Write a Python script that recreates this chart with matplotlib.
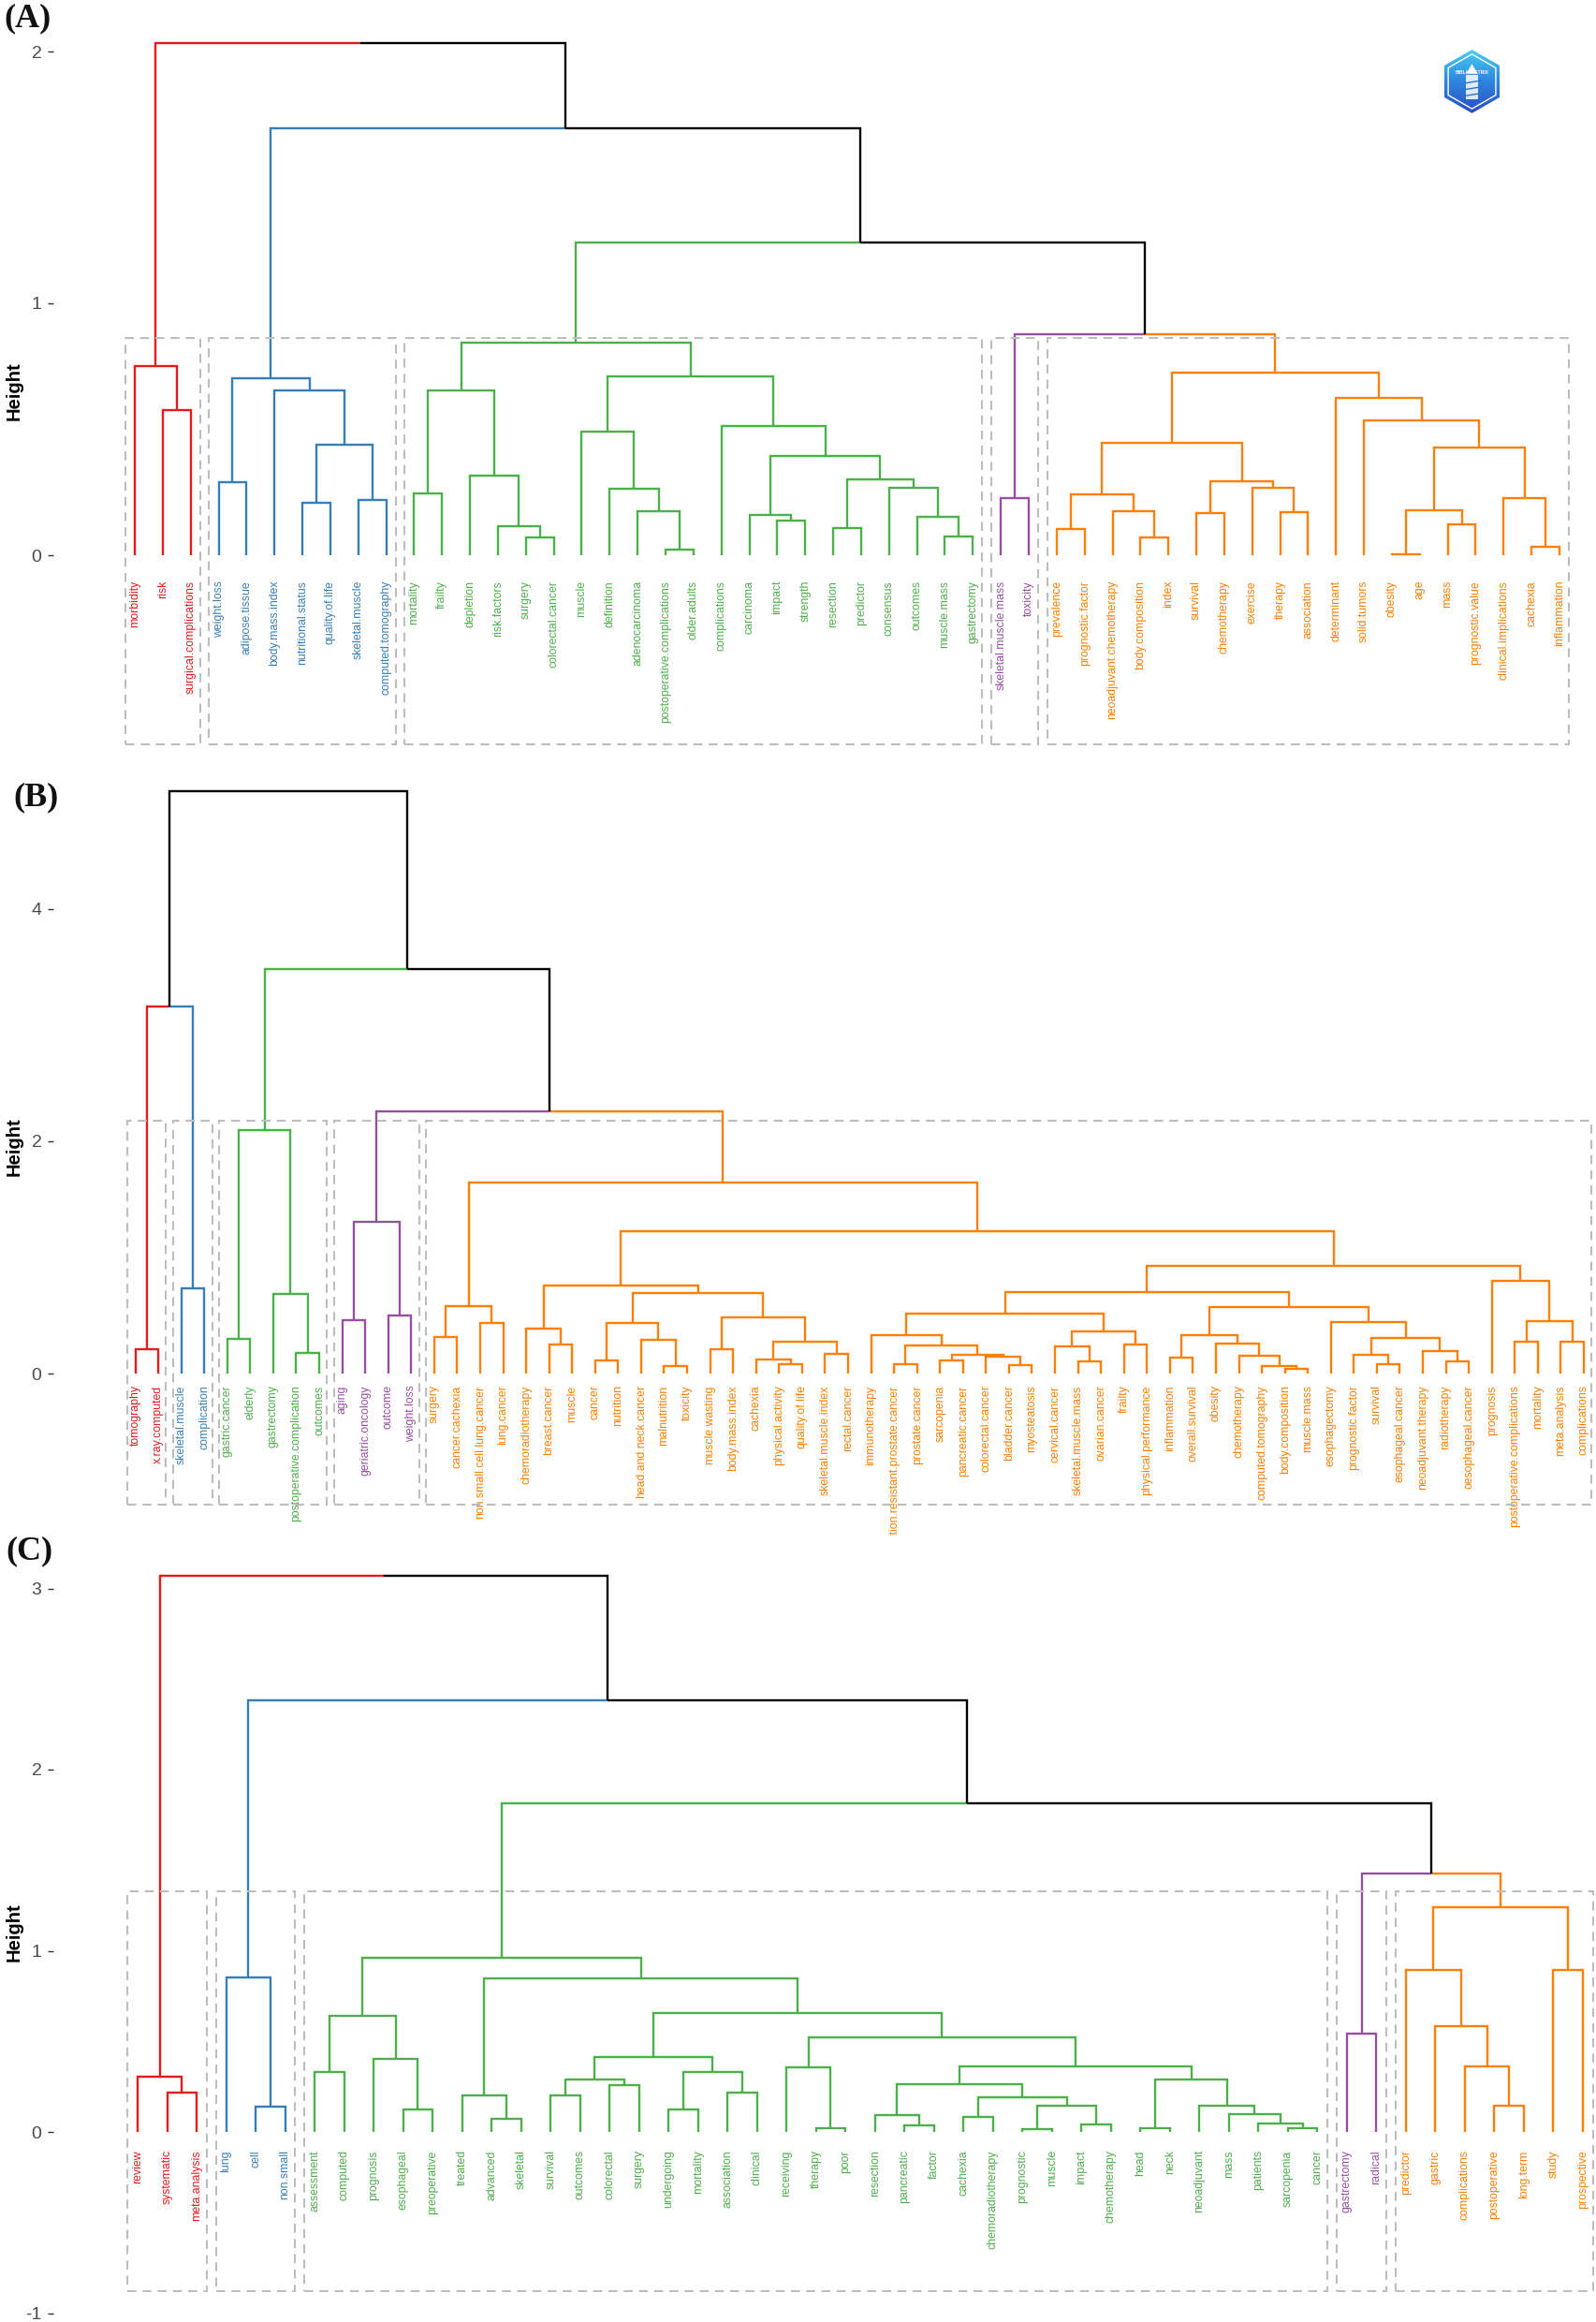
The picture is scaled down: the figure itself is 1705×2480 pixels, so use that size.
import matplotlib
matplotlib.use("Agg")
import matplotlib.pyplot as plt
from matplotlib.collections import LineCollection
from matplotlib.patches import Polygon, Rectangle
import numpy as np

# ---------------------------------------------------------------- data
COLORS = {"red": "#E41A1C", "blue": "#377EB8", "green": "#4DAF4A",
          "purple": "#984EA3", "orange": "#FF7F00"}

# Panel A : nodes are (height, left, right); strings are leaves
A_red = (0.751, "morbidity", (0.577, "risk", "surgical.complications"))
A_blue = (0.701, (0.29, "weight.loss", "adipose.tissue"),
          (0.654, "body.mass.index",
           (0.439, (0.208, "nutritional.status", "quality.of.life"),
            (0.218, "skeletal.muscle", "computed.tomography"))))
A_green = (0.844,
           (0.653, (0.245, "mortality", "frailty"),
            (0.317, "depletion", (0.116, "risk.factors", (0.072, "surgery", "colorectal.cancer")))),
           (0.710,
            (0.49, "muscle", (0.264, "definition",
                              (0.176, "adenocarcinoma", (0.022, "postoperative.complications", "older.adults")))),
            (0.513, "complications",
             (0.395, (0.161, "carcinoma", (0.139, "impact", "strength")),
              (0.30, (0.107, "resection", "predictor"),
               (0.268, "consensus", (0.154, "outcomes", (0.074, "muscle.mass", "gastrectomy"))))))))
A_purple = (0.226, "skeletal.muscle.mass", "toxicity")
A_orange = (0.726,
            (0.447,
             (0.242, (0.104, "prevalence", "prognostic.factor"),
              (0.175, "neoadjuvant.chemotherapy", (0.069, "body.composition", "index"))),
             (0.293, (0.168, "survival", "chemotherapy"),
              (0.266, "exercise", (0.171, "therapy", "association")))),
            (0.623, "determinant",
             (0.537, "solid.tumors",
              (0.426, (0.178, (0.005, "obesity", "age"), (0.124, "mass", "prognostic.value")),
               (0.226, "clinical.implications", (0.035, "cachexia", "inflammation"))))))
A_top = (2.035, "red", (1.695, "blue", (1.243, "green", (0.878, "purple", "orange"))))
A_clusters = {"red": A_red, "blue": A_blue, "green": A_green, "purple": A_purple, "orange": A_orange}

# Panel B
B_red = (0.21, "tomography", "x.ray.computed")
B_blue = (0.736, "skeletal.muscle", "complication")
B_green = (2.098, (0.30, "gastric.cancer", "elderly"),
           (0.685, "gastrectomy", (0.177, "postoperative.complication", "outcomes")))
B_purple = (1.308, (0.457, "aging", "geriatric.oncology"), (0.502, "outcome", "weight.loss"))
B_orange = (1.646,
            (0.58, (0.312, "surgery", "cancer.cachexia"),
             (0.435, "non.small.cell.lung.cancer", "lung.cancer")),
            (1.222,
             (0.76,
              (0.39, "chemoradiotherapy", (0.25, "breast.cancer", "muscle")),
              (0.693,
               (0.435, (0.115, "cancer", "nutrition"),
                (0.293, "head.and.neck.cancer", (0.067, "malnutrition", "toxicity"))),
               (0.481, (0.21, "muscle.wasting", "body.mass.index"),
                (0.277, (0.121, "cachexia", (0.081, "physical.activity", "quality.of.life")),
                 (0.172, "skeletal.muscle.index", "rectal.cancer"))))),
             (0.929,
              (0.699,
               (0.516,
                (0.333, "immunotherapy",
                 (0.244, (0.083, "castration.resistant.prostate.cancer", "prostate.cancer"),
                  (0.164, (0.115, "sarcopenia", "pancreatic.cancer"),
                   (0.145, "colorectal.cancer", (0.075, "bladder.cancer", "myosteatosis"))))),
                (0.363, (0.231, "cervical.cancer", (0.105, "skeletal.muscle.mass", "ovarian.cancer")),
                 (0.247, "frailty", "physical.performance"))),
               (0.57,
                (0.328, (0.134, "inflammation", "overall.survival"),
                 (0.258, "obesity", (0.156, "chemotherapy",
                                     (0.062, "computed.tomography", (0.038, "body.composition", "muscle.mass"))))),
                (0.44, "esophagectomy",
                 (0.309, (0.164, "prognostic.factor", (0.081, "survival", "esophageal.cancer")),
                  (0.196, "neoadjuvant.therapy", (0.107, "radiotherapy", "oesophageal.cancer")))))),
              (0.795, "prognosis",
               (0.454, (0.27, "postoperative.complications", "mortality"),
                (0.27, "meta.analysis", "complications"))))))
B_top = (5.01, (3.16, "red", "blue"), (3.48, "green", (2.254, "purple", "orange")))
B_clusters = {"red": B_red, "blue": B_blue, "green": B_green, "purple": B_purple, "orange": B_orange}

# Panel C
C_red = (0.303, "review", (0.215, "systematic", "meta.analysis"))
C_blue = (0.854, "lung", (0.14, "cell", "non.small"))
C_green = (0.961,
           (0.639, (0.331, "assessment", "computed"),
            (0.405, "prognosis", (0.122, "esophageal", "preoperative"))),
           (0.846,
            (0.2, "treated", (0.071, "advanced", "skeletal")),
            (0.656,
             (0.412, (0.289, (0.2, "survival", "outcomes"), (0.26, "colorectal", "surgery")),
              (0.329, (0.122, "undergoing", "mortality"), (0.219, "association", "clinical"))),
             (0.522,
              (0.358, "receiving", (0.019, "therapy", "poor")),
              (0.36,
               (0.264, (0.091, "resection", (0.034, "pancreatic", "factor")),
                (0.19, (0.081, "cachexia", "chemoradiotherapy"),
                 (0.143, (0.016, "prognostic", "muscle"), (0.043, "impact", "chemotherapy")))),
               (0.288, (0.019, "head", "neck"),
                (0.146, "neoadjuvant", (0.098, "mass", (0.048, "patients", (0.022, "sarcopenia", "cancer"))))))))))
C_purple = (0.541, "gastrectomy", "radical")
C_orange = (1.242,
            (0.896, "predictor", (0.584, "gastric", (0.363, "complications", (0.146, "postoperative", "long.term")))),
            (0.896, "study", "prospective"))
C_top = (3.07, "red", (2.38, "blue", (1.815, "green", (1.424, "purple", "orange"))))
C_clusters = {"red": C_red, "blue": C_blue, "green": C_green, "purple": C_purple, "orange": C_orange}

A_yticks = [0, 1, 2]
B_yticks = [0, 2, 4]
C_yticks = [-1, 0, 1, 2, 3]
A_rect = (-0.751, 0.862)
B_rect = (-1.126, 2.178)
C_rect = (-0.88, 1.328)
PANEL_TITLES = ["(A)", "(B)", "(C)"]

# ---------------------------------------------------------------- layout
W, H, DPI = 1706, 2480, 100
plt.rcParams["font.family"] = ["Liberation Sans", "DejaVu Sans"]
fig = plt.figure(figsize=(W / DPI, H / DPI), dpi=DPI)
fig.patch.set_facecolor("white")


def px_axes(l, t, r, b):
    return fig.add_axes([l / W, 1 - b / H, (r - l) / W, (b - t) / H])


def build(top, clusters):
    leaves, segs = [], []

    def walk(node, cname):
        if isinstance(node, str):
            leaves.append((node, cname))
            return float(len(leaves)), 0.0
        h, l, r = node
        res = [walk(ch, cname) for ch in (l, r)]
        x = (res[0][0] + res[1][0]) / 2
        for cx, chh in res:
            segs.append(([(cx, chh), (cx, h), (x, h)], COLORS[cname]))
        return x, h

    def walk_top(node):
        if isinstance(node, str):
            return walk(clusters[node], node)
        h, l, r = node
        res = []
        for ch in (l, r):
            cx, chh = walk_top(ch)
            res.append((cx, chh, COLORS[ch] if isinstance(ch, str) else "black"))
        x = (res[0][0] + res[1][0]) / 2
        for cx, chh, col in res:
            segs.append(([(cx, chh), (cx, h), (x, h)], col))
        return x, h

    walk_top(top)
    return leaves, segs


AX_L, AX_R = 57, 1706


def draw_panel(top, clusters, yticks, rect, box, y0px, unit, p1, pn):
    t, b = box
    ax = px_axes(AX_L, t, AX_R, b)
    leaves, segs = build(top, clusters)
    n = len(leaves)
    s = (pn - p1) / (n - 1)
    ax.set_xlim(1 - (p1 - AX_L) / s, n + (AX_R - pn) / s)
    ax.set_ylim((y0px - b) / unit, (y0px - t) / unit)
    lc = LineCollection([sg[0] for sg in segs], colors=[sg[1] for sg in segs],
                        linewidths=1.7, capstyle="butt", joinstyle="miter", zorder=2)
    ax.add_collection(lc)
    for i, (lab, cname) in enumerate(leaves):
        ax.text(i + 1, -0.1, lab, rotation=90, ha="center", va="top",
                fontsize=8.8, color=COLORS[cname], clip_on=True, zorder=3)
    # cluster rectangles
    for cname in clusters:
        idx = [i + 1 for i, (_, c) in enumerate(leaves) if c == cname]
        x0, x1 = min(idx) - 0.34, max(idx) + 0.34
        ax.add_patch(Rectangle((x0, rect[0]), x1 - x0, rect[1] - rect[0], fill=False,
                               edgecolor="#BDBDBD", linewidth=1.5,
                               linestyle=(0, (4.6, 3.2)), zorder=4))
    for sp in ax.spines.values():
        sp.set_visible(False)
    ax.set_xticks([])
    ax.set_yticks(yticks)
    ax.set_yticklabels([str(v) for v in yticks])
    ax.tick_params(axis="y", length=4, width=1.0, color="#333333", pad=5,
                   labelsize=14, labelcolor="#4D4D4D")
    ax.patch.set_alpha(0)
    return ax


axA = draw_panel(A_top, A_clusters, A_yticks, A_rect, (20, 835), 593, 269.0, 144, 1666)
axB = draw_panel(B_top, B_clusters, B_yticks, B_rect, (835, 1640), 1467, 124.1, 144.5, 1692)
axC = draw_panel(C_top, C_clusters, C_yticks, C_rect, (1645, 2480), 2277, 193.5, 147, 1691)

# "Height" labels and panel titles
for yc in (418, 1225, 2064):
    fig.text(15 / W, 1 - yc / H, "Height", rotation=90, ha="center", va="center",
             fontsize=14.5, fontweight="bold", color="black")
for (xp, yp), ttl in zip([(30, 20), (38, 852), (31, 1657)], PANEL_TITLES):
    fig.text(xp / W, 1 - yp / H, ttl, ha="center", va="center", fontsize=26,
             fontweight="bold", family=["Liberation Serif", "DejaVu Serif"], color="#111111")

# bibliometrix-like logo (hexagon badge)
axL = px_axes(1535, 48, 1610, 126)
axL.set_xlim(-1.1, 1.1)
axL.set_ylim(-1.15, 1.15)
axL.set_aspect("equal")
axL.axis("off")
ang = np.deg2rad(90 + 60 * np.arange(6))
hexpts = np.c_[np.cos(ang), np.sin(ang)]
hexp = Polygon(hexpts, closed=True, facecolor="none", edgecolor="none")
axL.add_patch(hexp)
grad = np.linspace(0, 1, 100)[:, None]
from matplotlib.colors import LinearSegmentedColormap
cmap = LinearSegmentedColormap.from_list("logo", ["#2A4DC4", "#2F86DE", "#46CDF5"])
im = axL.imshow(grad, extent=(-1, 1, 1, -1), cmap=cmap, aspect="auto", zorder=1)
im.set_clip_path(hexp)
axL.add_patch(Polygon(hexpts * 0.86, closed=True, facecolor="none", edgecolor="white",
                      linewidth=1.0, zorder=2))
axL.add_patch(Rectangle((-0.2, -0.55), 0.4, 0.75, facecolor="white", edgecolor="none",
                        alpha=0.85, zorder=2))
axL.add_patch(Polygon([(-0.18, 0.25), (0.0, 0.55), (0.18, 0.25)], closed=True,
                      facecolor="white", edgecolor="none", zorder=2))
for yy in (-0.05, -0.25, -0.45):
    axL.plot([-0.2, 0.3], [yy, yy + 0.08], color="#2F6FD0", lw=1.0, zorder=3)
axL.text(0, 0.28, "BIBLIOMETRIX", ha="center", va="center", fontsize=3.6,
         fontweight="bold", color="white", zorder=4)

fig.savefig("out.png", dpi=DPI, facecolor="white")
